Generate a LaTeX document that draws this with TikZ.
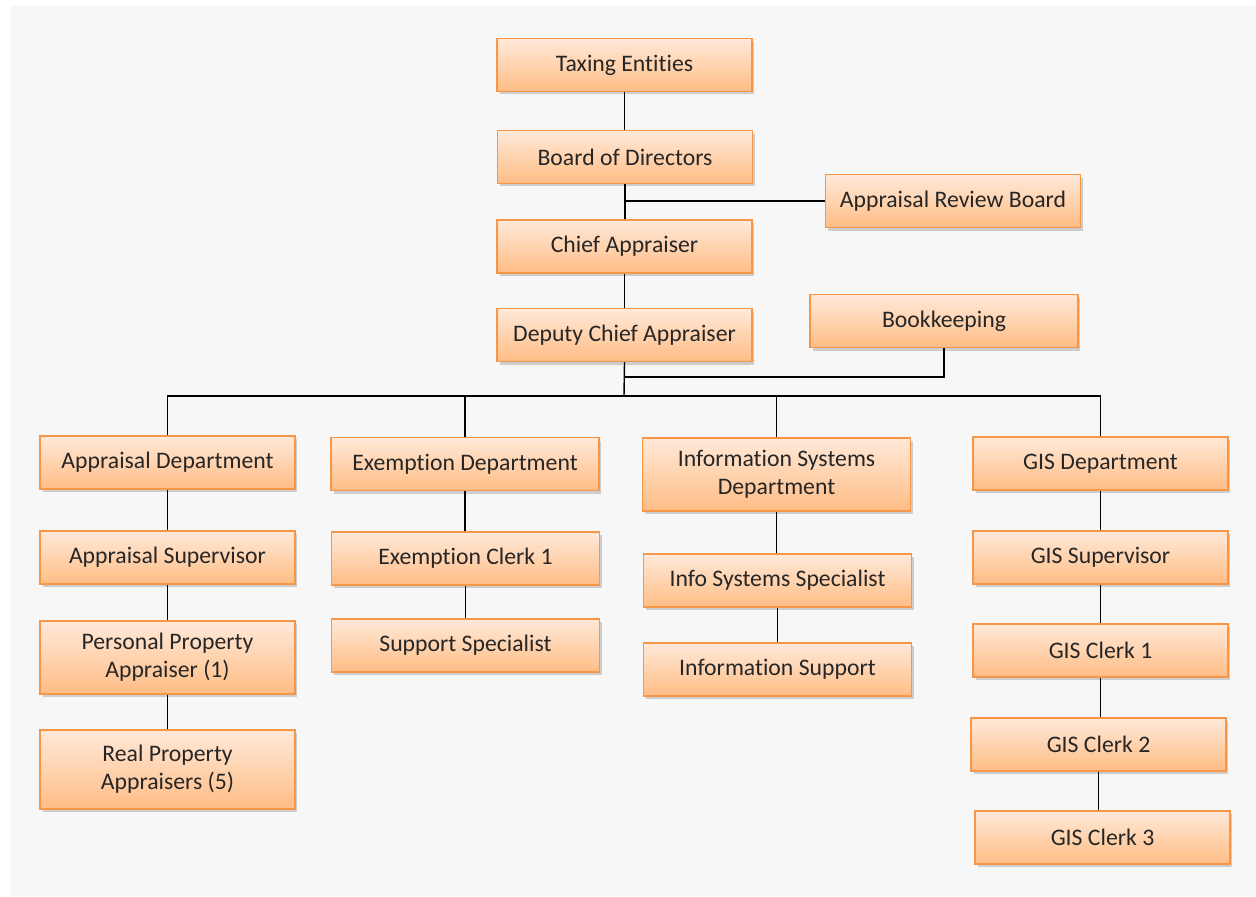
\documentclass[tikz,border=0pt]{standalone}
\usepackage{fontspec}
\setmainfont{Carlito}[Ligatures=NoCommon]
\usepackage{xcolor}
\usetikzlibrary{positioning,shadows}
\definecolor{boxline}{HTML}{F79646}
\definecolor{boxtop}{HTML}{FFE9D9}
\definecolor{boxbottom}{HTML}{FFBD85}
\definecolor{panel}{HTML}{F7F7F7}
\tikzstyle{unit} = [rectangle, minimum width=5.1cm, minimum height=1.06cm, text centered, align=center, draw=boxline, line width=0.8pt, top color=boxtop, bottom color=boxbottom, drop shadow={shadow xshift=0.05cm, shadow yshift=-0.06cm, opacity=0.35}, font=\fontsize{13.5}{16}\selectfont, text=black!85]
\tikzstyle{wide} = [unit, minimum width=5.36cm]
\tikzstyle{link} = [line width=0.8pt, black]

\begin{document}
\begin{tikzpicture}[x=0.02cm, y=-0.02cm]
\useasboundingbox (0,0) rectangle (1256,896);
\fill[white] (0,0) rectangle (1256,896);
\fill[panel] (11,6) rectangle (1256,896);

% top of the chart
\node (taxing) [unit] at (624.5,65) {Taxing Entities};
\node (board) [unit] at (625,157) {Board of Directors};
\node (review) [unit] at (953,201) {Appraisal Review Board};
\node (chief) [unit] at (624.5,246.5) {Chief Appraiser};
\node (deputy) [unit] at (624.5,335) {Deputy Chief Appraiser};
\node (books) [wide] at (944,321) {Bookkeeping};
\coordinate (bookjoin) at (624,377);
\coordinate (bus) at (624,396);

% departments
\node (apdept) [unit] at (167.5,462.5) {Appraisal Department};
\node (apsup) [unit] at (167.5,557.5) {Appraisal Supervisor};
\node (personal) [unit, minimum height=1.46cm] at (167.5,657.5) {Personal Property\\Appraiser (1)};
\node (real) [unit, minimum height=1.58cm] at (167.5,769.5) {Real Property\\Appraisers (5)};

\node (exdept) [wide] at (465,464) {Exemption Department};
\node (exclerk) [wide] at (465.5,558.5) {Exemption Clerk 1};
\node (support) [wide] at (465.5,645.5) {Support Specialist};

\node (isdept) [wide, minimum height=1.46cm] at (776.5,474.5) {Information Systems\\Department};
\node (isspec) [wide] at (777.5,580.5) {Info Systems Specialist};
\node (infosup) [wide] at (777.5,669.5) {Information Support};

\node (gisdept) [unit] at (1100.5,463.5) {GIS Department};
\node (gissup) [unit] at (1100.5,557.5) {GIS Supervisor};
\node (gis1) [unit] at (1100.5,650.5) {GIS Clerk 1};
\node (gis2) [unit] at (1098.5,744.5) {GIS Clerk 2};
\node (gis3) [unit] at (1102.5,837.5) {GIS Clerk 3};

% connectors
\foreach \a/\b in {taxing/board, board/chief, chief/deputy,
  apdept/apsup, apsup/personal, personal/real,
  exdept/exclerk, exclerk/support,
  isdept/isspec, isspec/infosup,
  gisdept/gissup, gissup/gis1, gis1/gis2, gis2/gis3}
  \draw [link] (\a.south) -- (\a.south |- \b.north);
\draw [link] (review.west) -- (review.west -| board.south);
\draw [link] (books.south) |- (bookjoin);
\draw [link] (deputy.south) -- (bus);
\draw [link] (apdept.north) |- (bus) -| (gisdept.north);
\draw [link] (exdept.north) -- (exdept.north |- bus);
\draw [link] (isdept.north) -- (isdept.north |- bus);
\end{tikzpicture}
\end{document}
